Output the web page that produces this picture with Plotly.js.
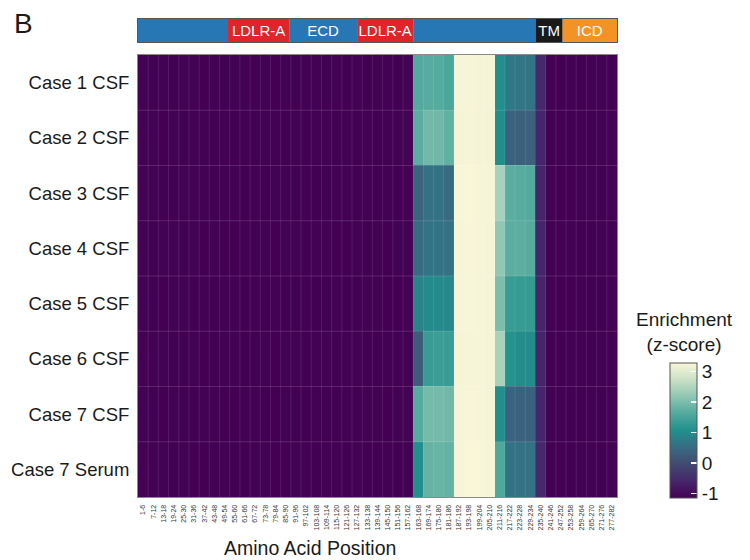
<!DOCTYPE html>
<html>
<head>
<meta charset="utf-8">
<script src="https://cdn.plot.ly/plotly-3.0.1.min.js"></script>
<style>html,body{margin:0;padding:0;background:#fff;}#chart{width:750px;height:560px;}</style>
</head>
<body>
<div id="chart"></div>
<script>
// ---- data ----
const positions = ['1-6','7-12','13-18','19-24','25-30','31-36','37-42','43-48','49-54','55-60',
  '61-66','67-72','73-78','79-84','85-90','91-96','97-102','103-108','109-114','115-120',
  '121-126','127-132','133-138','139-144','145-150','151-156','157-162','163-168','169-174','175-180',
  '181-186','187-192','193-198','199-204','205-210','211-216','217-222','223-228','229-234','235-240',
  '241-246','247-252','253-258','259-264','265-270','271-276','277-282'];

const samples = ['Case 1 CSF','Case 2 CSF','Case 3 CSF','Case 4 CSF','Case 5 CSF','Case 6 CSF','Case 7 CSF','Case 7 Serum'];

const case1CSF = [-1.14,-1.15,-1.14,-1.15,-1.13,-1.14,-1.15,-1.14,-1.15,
  -1.14,-1.13,-1.15,-1.14,-1.15,-1.14,-1.15,-1.14,-1.13,
  -1.15,-1.14,-1.15,-1.14,-1.15,-1.14,-1.13,-1.15,-1.12,
  1.62,1.68,1.66,1.55,3.25,3.26,3.24,3.22,1.05,0.72,0.66,0.64,-0.58,
  -1.14,-1.15,-1.14,-1.15,-1.14,-1.13,-1.15];
const case2CSF = [-1.15,-1.14,-1.15,-1.14,-1.15,-1.13,-1.14,-1.15,-1.14,
  -1.15,-1.14,-1.15,-1.13,-1.14,-1.15,-1.14,-1.15,-1.14,
  -1.14,-1.15,-1.14,-1.15,-1.14,-1.15,-1.14,-1.14,-1.12,
  1.70,1.92,1.90,1.76,3.24,3.25,3.23,3.21,1.03,0.36,0.32,0.34,-0.60,
  -1.15,-1.14,-1.15,-1.14,-1.15,-1.14,-1.14];
const case3CSF = [-1.14,-1.14,-1.15,-1.15,-1.14,-1.14,-1.13,-1.15,-1.14,
  -1.14,-1.15,-1.14,-1.15,-1.14,-1.13,-1.15,-1.14,-1.15,
  -1.15,-1.14,-1.14,-1.15,-1.14,-1.15,-1.14,-1.15,-1.13,
  0.38,0.60,0.62,0.52,3.27,3.28,3.26,3.25,2.40,1.70,1.68,1.64,-0.62,
  -1.14,-1.15,-1.15,-1.14,-1.14,-1.15,-1.14];
const case4CSF = [-1.15,-1.15,-1.14,-1.14,-1.15,-1.14,-1.15,-1.13,-1.15,
  -1.15,-1.14,-1.15,-1.14,-1.15,-1.14,-1.14,-1.15,-1.14,
  -1.14,-1.15,-1.15,-1.14,-1.15,-1.14,-1.15,-1.14,-1.13,
  0.52,0.64,0.65,0.60,3.26,3.27,3.25,3.24,2.20,1.70,1.72,1.68,-0.60,
  -1.15,-1.14,-1.14,-1.15,-1.15,-1.14,-1.15];
const case5CSF = [-1.14,-1.15,-1.15,-1.14,-1.14,-1.15,-1.14,-1.15,-1.14,
  -1.13,-1.15,-1.14,-1.15,-1.14,-1.15,-1.15,-1.14,-1.15,
  -1.15,-1.14,-1.15,-1.15,-1.14,-1.14,-1.15,-1.15,-1.12,
  0.88,0.98,0.97,0.95,3.25,3.27,3.26,3.24,2.00,1.32,1.30,1.28,-0.62,
  -1.14,-1.15,-1.15,-1.14,-1.15,-1.15,-1.14];
const case6CSF = [-1.15,-1.14,-1.14,-1.15,-1.15,-1.14,-1.15,-1.15,-1.13,
  -1.14,-1.15,-1.15,-1.14,-1.15,-1.14,-1.14,-1.15,-1.14,
  -1.14,-1.15,-1.14,-1.14,-1.15,-1.15,-1.14,-1.14,-1.13,
  0.26,1.34,1.36,1.32,3.24,3.26,3.25,3.23,2.42,1.10,1.02,1.00,-0.60,
  -1.15,-1.15,-1.14,-1.14,-1.15,-1.14,-1.15];
const case7CSF = [-1.14,-1.15,-1.15,-1.14,-1.15,-1.15,-1.14,-1.14,-1.15,
  -1.15,-1.14,-1.14,-1.15,-1.15,-1.14,-1.15,-1.15,-1.14,
  -1.15,-1.15,-1.14,-1.15,-1.14,-1.14,-1.15,-1.14,-1.12,
  1.65,1.95,1.94,1.90,3.25,3.27,3.26,3.24,1.05,0.38,0.35,0.37,-0.60,
  -1.14,-1.14,-1.15,-1.15,-1.14,-1.15,-1.14];
const case7Serum = [-1.15,-1.14,-1.14,-1.15,-1.14,-1.15,-1.15,-1.14,-1.14,
  -1.15,-1.15,-1.14,-1.14,-1.15,-1.15,-1.14,-1.14,-1.15,
  -1.14,-1.14,-1.15,-1.14,-1.15,-1.15,-1.14,-1.15,-1.13,
  1.05,1.80,1.82,1.78,3.26,3.28,3.27,3.25,1.60,0.62,0.60,0.62,-0.58,
  -1.15,-1.14,-1.15,-1.14,-1.14,-1.15,-1.14];

const colorTicks = [-1, 0, 1, 2, 3];

// protein domain annotation (amino acid coordinates)
const domainLabels = ['', 'LDLR-A', 'ECD', 'LDLR-A', '', 'TM', 'ICD'];
const domainStart  = [0, 53, 89, 129, 162, 234, 250];
const domainEnd    = [53, 89, 129, 162, 234, 250, 282];
const domainColors = ['#2777B5', '#E1232A', '#2777B5', '#E1232A', '#2777B5', '#1A1A1A', '#F39325'];

// ---- chart ----
const z = [case1CSF, case2CSF, case3CSF, case4CSF, case5CSF, case6CSF, case7CSF, case7Serum];
const FONT = 'Liberation Sans, Arial, Helvetica, sans-serif';
const INK = '#1a1a1a';

const colorscale = [
  [0.00, '#440154'],
  [0.13, '#46286B'],
  [0.26, '#414D71'],
  [0.38, '#376C84'],
  [0.50, '#21908C'],
  [0.62, '#4FA89C'],
  [0.75, '#8FC6B3'],
  [0.88, '#CBE1C6'],
  [1.00, '#F9F6D8']
];

const heat = {
  type: 'heatmap',
  x: positions,
  y: samples,
  z: z,
  zmin: -1.15,
  zmax: 3.28,
  colorscale: colorscale,
  hoverinfo: 'skip',
  xaxis: 'x', yaxis: 'y',
  colorbar: {
    thickness: 27, thicknessmode: 'pixels',
    len: 135, lenmode: 'pixels',
    x: 1.1106, xanchor: 'left',
    y: 0.139, yanchor: 'middle',
    xpad: 0, ypad: 0,
    outlinewidth: 1, outlinecolor: '#555',
    ticks: 'inside', ticklen: 6, tickwidth: 1.5, tickcolor: 'white',
    tickvals: colorTicks,
    ticktext: colorTicks.map(String),
    tickfont: {family: FONT, size: 19, color: INK}
  }
};

const domains = {
  type: 'bar',
  orientation: 'h',
  y: domainLabels.map(() => 'domain'),
  x: domainStart.map((s, i) => domainEnd[i] - s),
  base: domainStart,
  width: 1,
  marker: {color: domainColors, line: {width: 0}},
  text: domainLabels,
  textposition: 'inside',
  insidetextanchor: 'middle',
  constraintext: 'none',
  textfont: {family: FONT, size: 15, color: 'white'},
  hoverinfo: 'skip',
  xaxis: 'x2', yaxis: 'y2',
  showlegend: false
};

// faint cell separators drawn over the heatmap, at category boundaries
const shapes = [];
for (let k = 1; k < positions.length; k++) {
  shapes.push({type: 'line', xref: 'x', yref: 'y domain', x0: k - 0.5, x1: k - 0.5, y0: 0, y1: 1,
    line: {color: 'rgba(255,255,255,0.10)', width: 1}, layer: 'above'});
}
for (let k = 1; k < samples.length; k++) {
  shapes.push({type: 'line', xref: 'x domain', yref: 'y', x0: 0, x1: 1, y0: k - 0.5, y1: k - 0.5,
    line: {color: 'rgba(255,255,255,0.14)', width: 1}, layer: 'above'});
}

const layout = {
  width: 750, height: 560,
  margin: {l: 138, r: 133, t: 19, b: 63, pad: 0},
  paper_bgcolor: '#ffffff',
  plot_bgcolor: '#ffffff',
  font: {family: FONT, color: INK},
  barmode: 'overlay',
  showlegend: false,
  xaxis: {
    domain: [0, 1], anchor: 'y',
    type: 'category',
    tickangle: -90,
    tickfont: {family: FONT, size: 7, color: '#333'},
    ticks: '', ticklabelstandoff: 4,
    showgrid: false, zeroline: false,
    showline: true, mirror: true, linecolor: '#8a8a8a', linewidth: 1
  },
  yaxis: {
    domain: [0, 0.9247], anchor: 'x',
    type: 'category',
    autorange: 'reversed',
    tickfont: {family: FONT, size: 18.5, color: INK},
    ticks: '', ticklabelstandoff: 4,
    showgrid: false, zeroline: false,
    showline: true, mirror: true, linecolor: '#8a8a8a', linewidth: 1
  },
  xaxis2: {
    domain: [0, 1], anchor: 'y2',
    range: [0, 282],
    showticklabels: false, ticks: '', showgrid: false, zeroline: false,
    showline: true, mirror: true, linecolor: '#555', linewidth: 1,
    fixedrange: true
  },
  yaxis2: {
    domain: [0.9519, 1], anchor: 'x2',
    type: 'category',
    range: [-0.5, 0.5],
    showticklabels: false, ticks: '', showgrid: false, zeroline: false,
    showline: true, mirror: true, linecolor: '#555', linewidth: 1,
    fixedrange: true
  },
  shapes: shapes,
  annotations: [
    {text: 'B', xref: 'paper', yref: 'paper', x: -0.240, y: 0.9916,
     xanchor: 'center', yanchor: 'middle', showarrow: false,
     font: {family: FONT, size: 28, color: INK}},
    {text: 'Enrichment<br>(z-score)', xref: 'paper', yref: 'paper', x: 1.1399, y: 0.345,
     xanchor: 'center', yanchor: 'middle', align: 'center', showarrow: false,
     font: {family: FONT, size: 19, color: INK}},
    {text: 'Amino Acid Position', xref: 'paper', yref: 'paper', x: 0.359, y: -0.1067,
     xanchor: 'center', yanchor: 'middle', showarrow: false,
     font: {family: FONT, size: 19.5, color: INK}}
  ]
};

Plotly.newPlot('chart', [heat, domains], layout, {displayModeBar: false, staticPlot: true});
</script>
</body>
</html>
